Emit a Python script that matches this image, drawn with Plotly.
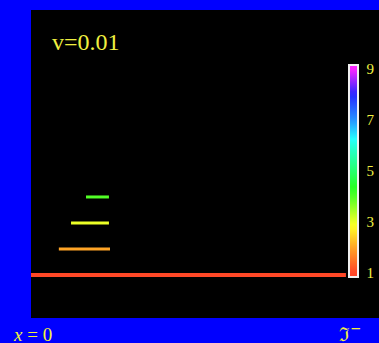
import colorsys
import numpy as np
import plotly.graph_objects as go
from plotly.colors import sample_colorscale

# Level index of each horizontal segment (also its colour value)
levels = [1, 2, 3, 4]
# Horizontal extent of each segment along x
x_start = [0.000, 0.080, 0.115, 0.158]
x_end = [0.905, 0.227, 0.224, 0.224]
# Colour bar ticks
cbar_ticks = [1, 3, 5, 7, 9]
c_min, c_max = 0.85, 9.15

# Rainbow scale: hue anchors (degrees) at integer values 1..9
hue_values = [1, 2, 3, 4, 5, 6, 7, 8, 9]
hue_anchor = [8, 35, 65, 108, 140, 170, 210, 240, 300]

n_stops = 41
rainbow = []
for i in range(n_stops):
    t = i / (n_stops - 1)
    v = c_min + t * (c_max - c_min)
    h = np.interp(v, hue_values, hue_anchor)
    r, g, b = colorsys.hsv_to_rgb(h / 360.0, 0.85, 1.0)
    rainbow.append([t, f"rgb({int(r*255)},{int(g*255)},{int(b*255)})"])

fig = go.Figure()

for lv, x0, x1 in zip(levels, x_start, x_end):
    col = sample_colorscale(rainbow, (lv - c_min) / (c_max - c_min))[0]
    fig.add_trace(go.Scatter(
        x=[x0, x1], y=[lv, lv], mode="lines",
        line=dict(color=col, width=4 if lv == 1 else 3),
        hoverinfo="skip", showlegend=False,
    ))

# Invisible marker trace carrying the colour bar
fig.add_trace(go.Scatter(
    x=[None], y=[None], mode="markers", showlegend=False,
    marker=dict(
        color=[c_min], colorscale=rainbow, cmin=c_min, cmax=c_max,
        showscale=True,
        colorbar=dict(
            x=(349 - 31) / 348, xanchor="left", xpad=0,
            y=(318 - 171) / 308, yanchor="middle", ypad=0,
            lenmode="pixels", len=212,
            thickness=9, outlinewidth=2, outlinecolor="#f0f0f0",
            tickvals=cbar_ticks, ticks="outside", ticklen=5,
            tickcolor="rgba(0,0,0,0)",
            tickfont=dict(family="Liberation Serif", size=15, color="#f0f040"),
        ),
    ),
))

fig.add_annotation(
    text="v=0.01", xref="paper", yref="paper",
    x=(50 - 31) / 348, y=(318 - 42) / 308, xanchor="left", yanchor="middle",
    showarrow=False, font=dict(family="Liberation Serif", size=24, color="#f0f040"),
)
fig.add_annotation(
    text="<i>x</i> = 0", xref="paper", yref="paper",
    x=(11 - 31) / 348, y=(318 - 334) / 308, xanchor="left", yanchor="middle",
    showarrow=False, font=dict(family="Liberation Serif", size=19, color="#f0f040"),
)
fig.add_annotation(
    text="ℑ<sup>−</sup>", xref="paper", yref="paper",
    x=(337 - 31) / 348, y=(318 - 333) / 308, xanchor="left", yanchor="middle",
    showarrow=False, font=dict(family="DejaVu Serif", size=19, color="#f0f040"),
)

fig.update_xaxes(range=[0, 1], visible=False, showgrid=False, zeroline=False)
fig.update_yaxes(range=[-0.654, 11.19], visible=False, showgrid=False, zeroline=False)
fig.update_layout(
    width=379, height=343,
    margin=dict(l=31, r=0, t=10, b=25, pad=0),
    paper_bgcolor="#0000ff", plot_bgcolor="#000000",
)

fig.write_html("out.html")
